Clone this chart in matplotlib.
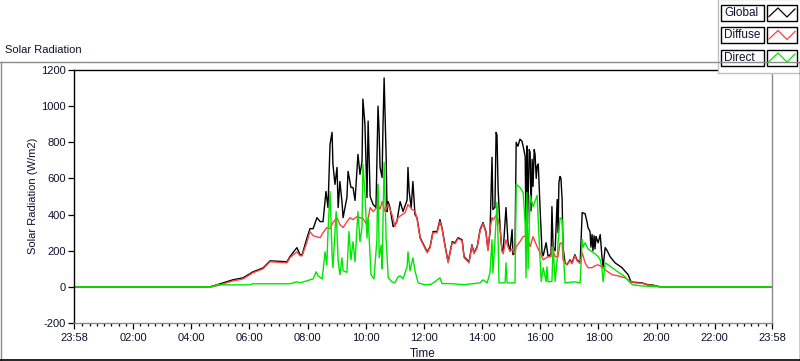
import matplotlib
matplotlib.use('Agg')
import matplotlib.pyplot as plt
from matplotlib.patches import Rectangle

plt.rcParams['font.family'] = ['Liberation Sans', 'DejaVu Sans']
plt.rcParams['axes.unicode_minus'] = False

# DATA (time in hours of the day, radiation in W/m2)
global_t = [-0.03, 4.64, 4.85, 5.43, 5.78, 6.12, 6.47, 6.71, 7.29, 7.39, 7.63, 7.74, 7.81,
            7.98, 8.08, 8.19, 8.32, 8.43, 8.53, 8.63, 8.70, 8.77, 8.84, 8.87, 8.94, 9.01,
            9.05, 9.11, 9.18, 9.22, 9.35, 9.39, 9.49, 9.56, 9.63, 9.73, 9.80, 9.87, 9.90,
            9.97, 10.04, 10.08, 10.15, 10.25, 10.35, 10.42, 10.46, 10.49, 10.56, 10.59,
            10.63, 10.70, 10.73, 10.77, 10.83, 10.94, 11.07, 11.18, 11.28, 11.42, 11.45,
            11.49, 11.56, 11.62, 11.69, 11.76, 11.87, 12.04, 12.11, 12.21, 12.31, 12.45,
            12.55, 12.62, 12.72, 12.83, 12.97, 13.07, 13.17, 13.31, 13.38, 13.48, 13.55,
            13.65, 13.72, 13.83, 13.93, 14.03, 14.13, 14.20, 14.27, 14.34, 14.37, 14.44,
            14.48, 14.51, 14.55, 14.62, 14.68, 14.72, 14.82, 14.89, 14.96, 15.03, 15.06,
            15.13, 15.17, 15.23, 15.30, 15.37, 15.41, 15.48, 15.51, 15.54, 15.56, 15.58,
            15.62, 15.65, 15.68, 15.72, 15.75, 15.79, 15.82, 15.86, 15.89, 15.93, 15.99,
            16.06, 16.10, 16.20, 16.27, 16.37, 16.40, 16.44, 16.51, 16.58, 16.61, 16.64,
            16.68, 16.71, 16.75, 16.78, 16.85, 16.92, 17.02, 17.09, 17.19, 17.26, 17.37,
            17.44, 17.54, 17.61, 17.64, 17.71, 17.74, 17.78, 17.81, 17.85, 17.88, 17.92,
            17.95, 17.99, 18.06, 18.12, 18.16, 18.23, 18.30, 18.40, 18.57, 18.81, 19.02,
            19.12, 19.26, 19.50, 19.71, 19.84, 20.12, 23.97]
global_v = [0, 0, 10, 39, 50, 83, 105, 144, 139, 167, 217, 178, 178,
            272, 322, 322, 383, 361, 361, 528, 439, 789, 855, 678, 567, 661,
            439, 583, 472, 383, 494, 639, 550, 550, 478, 733, 622, 694, 1039,
            900, 494, 917, 500, 456, 439, 1000, 850, 661, 605, 883,
            1156, 717, 417, 472, 439, 333, 361, 472, 417, 480, 661,
            528, 439, 583, 400, 383, 272, 217, 194, 222, 306, 306,
            372, 328, 233, 139, 250, 244, 272, 261, 167, 150, 139,
            233, 189, 222, 317, 356, 306, 206, 300, 717, 428, 440,
            855, 840, 539, 317, 206, 189, 439, 244, 200, 317, 178,
            189, 800, 778, 817, 806, 778, 722, 300, 780, 350, 483,
            760, 744, 420, 706, 556, 760, 733, 600, 667, 680, 444,
            189, 172, 244, 167, 183, 444, 222, 200, 483, 300, 578,
            611, 600, 483, 222, 133, 122, 150, 133, 178, 150, 133,
            411, 405, 356, 328, 306, 220, 290, 200, 283, 210, 278,
            261, 244, 289, 167, 111, 217, 200, 167, 133, 106, 67,
            28, 25, 22, 11, 11, 0, 0]

diffuse_t = [-0.03, 4.70, 4.85, 5.43, 5.78, 6.12, 6.47, 6.71, 7.29, 7.39, 7.63, 7.74, 7.81,
             7.98, 8.08, 8.19, 8.43, 8.53, 8.66, 8.77, 8.87, 9.01, 9.11, 9.22, 9.35, 9.46,
             9.56, 9.70, 9.80, 9.90, 10.04, 10.15, 10.25, 10.38, 10.42, 10.49, 10.56, 10.66,
             10.77, 10.90, 11.00, 11.11, 11.25, 11.35, 11.45, 11.59, 11.69, 11.76, 11.87,
             12.04, 12.11, 12.21, 12.31, 12.45, 12.55, 12.62, 12.72, 12.83, 12.97, 13.07,
             13.17, 13.31, 13.38, 13.48, 13.55, 13.65, 13.72, 13.83, 13.93, 14.03, 14.13,
             14.20, 14.27, 14.34, 14.37, 14.51, 14.55, 14.62, 14.68, 14.72, 14.82, 14.89,
             14.96, 15.03, 15.13, 15.17, 15.30, 15.41, 15.54, 15.65, 15.75, 15.89, 15.99,
             16.10, 16.27, 16.37, 16.40, 16.51, 16.61, 16.68, 16.75, 16.78, 16.92, 17.02,
             17.09, 17.19, 17.26, 17.37, 17.44, 17.54, 17.64, 17.78, 17.88, 17.99, 18.12,
             18.23, 18.47, 18.67, 18.91, 19.12, 19.26, 19.50, 19.71, 19.84, 20.12, 23.97]
diffuse_v = [0, 0, 5, 33, 44, 78, 100, 139, 133, 161, 194, 172, 172,
             250, 306, 283, 272, 300, 328, 322, 356, 383, 344, 328, 361, 383,
             372, 389, 383, 378, 344, 439, 417, 439, 456, 430, 472, 417,
             456, 400, 333, 383, 400, 410, 456, 428, 420, 378, 267,
             211, 189, 217, 300, 300, 361, 322, 228, 133, 244, 239,
             267, 256, 161, 145, 133, 228, 183, 217, 311, 350, 300,
             200, 317, 383, 370, 400, 370, 317, 200, 183, 260, 220,
             195, 210, 183, 222, 250, 278, 283, 222, 278, 222, 189,
             150, 167, 167, 222, 167, 167, 244, 240, 150, 122, 145,
             128, 172, 145, 130, 189, 133, 106, 106, 117, 122, 110,
             94, 67, 61, 50, 28, 22, 20, 9, 9, 0, 0]

direct_t = [-0.03, 4.70, 4.85, 6.00, 6.10, 7.39, 7.63, 7.74, 8.08, 8.19, 8.29, 8.36, 8.50,
            8.60, 8.66, 8.70, 8.77, 8.84, 8.87, 8.98, 9.05, 9.11, 9.18, 9.22, 9.35, 9.42,
            9.49, 9.56, 9.63, 9.73, 9.80, 9.87, 9.90, 9.97, 10.04, 10.08, 10.18, 10.28,
            10.38, 10.41, 10.44, 10.46, 10.53, 10.56, 10.63, 10.70, 10.77, 10.90, 11.00,
            11.11, 11.18, 11.28, 11.42, 11.45, 11.52, 11.62, 11.69, 11.80, 12.04, 12.25,
            12.55, 12.62, 12.90, 13.38, 13.93, 14.03, 14.17, 14.27, 14.34, 14.37, 14.44,
            14.51, 14.55, 14.58, 14.79, 14.82, 14.86, 15.13, 15.17, 15.30, 15.41, 15.48,
            15.51, 15.54, 15.58, 15.65, 15.75, 15.89, 15.96, 16.03, 16.10, 16.20, 16.23,
            16.27, 16.40, 16.44, 16.51, 16.58, 16.61, 16.68, 16.75, 16.78, 16.85, 17.19,
            17.37, 17.44, 17.47, 17.54, 17.64, 17.78, 17.88, 17.99, 18.06, 18.12, 18.16,
            18.23, 18.33, 18.47, 18.67, 18.91, 19.09, 19.19, 19.50, 20.12, 23.97]
direct_v = [0, 0, 11, 11, 17, 17, 28, 22, 39, 44, 83, 61, 44,
            194, 120, 306, 528, 178, 106, 417, 139, 67, 161, 90, 80, 306,
            150, 250, 139, 417, 250, 330, 678, 520, 271, 380, 67, 44,
            256, 567, 406, 161, 230, 100, 689, 261, 50, 28, 22,
            56, 61, 45, 111, 194, 89, 161, 89, 22, 11, 14,
            50, 18, 18, 12, 22, 39, 22, 78, 261, 78, 250,
            467, 250, 22, 22, 133, 22, 22, 567, 550, 522, 350,
            50, 522, 100, 506, 444, 506, 261, 30, 106, 28, 111,
            28, 30, 222, 30, 150, 244, 383, 372, 220, 22, 28,
            22, 261, 220, 244, 210, 194, 183, 167, 150, 100, 28,
            133, 122, 106, 83, 56, 22, 11, 5, 0, 0]

tick_pos = [-2 / 60] + list(range(2, 24, 2)) + [24 - 2 / 60]
tick_labels = ['23:58', '02:00', '04:00', '06:00', '08:00', '10:00', '12:00',
               '14:00', '16:00', '18:00', '20:00', '22:00', '23:58']

W, H = 800, 361
fig = plt.figure(figsize=(W / 100, H / 100), dpi=100)
fig.patch.set_facecolor('white')

# main plot area (pixel box: x 74-772, y 70-323)
ax = fig.add_axes([74 / W, 1 - 323 / H, (772 - 74) / W, (323 - 70) / H])
ax.plot(global_t, global_v, color='black', lw=1.0)
ax.plot(diffuse_t, diffuse_v, color='#ff4040', lw=1.0)
ax.plot(direct_t, direct_v, color='#00e600', lw=1.0)

ax.set_xlim(tick_pos[0], tick_pos[-1])
ax.set_ylim(-200, 1200)
ax.set_yticks(range(-200, 1201, 200))
ax.set_xticks(tick_pos)
ax.set_xticklabels(tick_labels)
ax.set_xticks([m / 4 for m in range(1, 96) if m % 8 != 0], minor=True)

ax.tick_params(axis='both', which='major', labelsize=8, length=4, width=0.9,
               colors='black', labelcolor='#101030')
ax.tick_params(axis='x', which='major', pad=3)
ax.tick_params(axis='y', which='major', pad=2)
ax.tick_params(axis='x', which='minor', length=2.5, width=0.9, color='black')

ax.spines['left'].set_color('black')
ax.spines['top'].set_color('black')
ax.spines['right'].set_color('#8a8a8a')
ax.spines['bottom'].set_color('#8a8a8a')
for s in ax.spines.values():
    s.set_linewidth(1.0)

# overlay in pixel coordinates for frame, title, labels and legend
ov = fig.add_axes([0, 0, 1, 1], zorder=5)
ov.set_xlim(0, W)
ov.set_ylim(H, 0)
ov.axis('off')
ov.patch.set_alpha(0)

ov.plot([0, W], [61.5, 61.5], color='#8a8a8a', lw=1.0)
ov.plot([0.5, 0.5], [61.5, H], color='#8a8a8a', lw=1.0)
ov.plot([0, W], [360, 360], color='black', lw=1.2)
ov.plot([799.5, 799.5], [61.5, H], color='black', lw=1.0)

ov.text(5, 50, 'Solar Radiation', fontsize=8, color='#101030', va='center', ha='left')
ov.text(33, 196, 'Solar Radiation (W/m2)', fontsize=8, color='#101030',
        rotation=90, va='center', ha='center')
ov.text(423, 354, 'Time', fontsize=8.5, color='#101030', va='center', ha='center')

# legend panel
ov.add_patch(Rectangle((717.5, -1), 84, 73.5, facecolor='white',
                       edgecolor='#c0c0c0', lw=1.0))
names = ['Global', 'Diffuse', 'Direct']
colors = ['black', '#ff4040', '#00e600']
tops = [4.5, 27, 49.5]
for name, col, top in zip(names, colors, tops):
    ov.add_patch(Rectangle((721, top), 43, 16, facecolor='white',
                           edgecolor='black', lw=1.0))
    ov.text(724, top + 8.3, name, fontsize=8.5, color='#101030', va='center', ha='left')
    ov.add_patch(Rectangle((767, top), 30, 16, facecolor='white',
                           edgecolor='black', lw=1.0))
    ov.plot([769, 778, 787, 795], [top + 12, top + 3.5, top + 12.5, top + 4.5],
            color=col, lw=0.9)

fig.savefig('out.png', dpi=100)
